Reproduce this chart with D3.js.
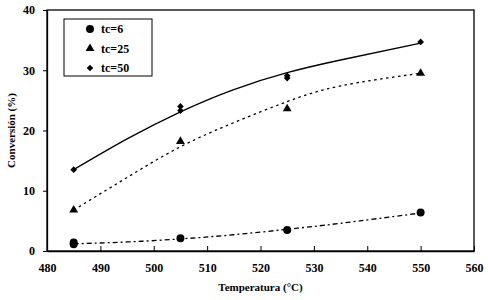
<!DOCTYPE html>
<html>
<head>
<meta charset="utf-8">
<script src="https://cdn.jsdelivr.net/npm/d3@7"></script>
</head>
<body style="margin:0;background:#fff">
<div id="chart"></div>
<script>
// Conversion vs temperature, three tc series with trend curves

const xTicks = [480, 490, 500, 510, 520, 530, 540, 550, 560];
const yTicks = [0, 10, 20, 30, 40];

// measured points (temperature, conversion)
const tc6 = [[485, 1.1], [485, 1.4], [505, 2.1], [525, 3.5], [550, 6.4]];
const tc25 = [[485, 6.8], [505, 18.2], [525, 23.6], [550, 29.5]];
const tc50 = [[485, 13.5], [505, 23.3], [505, 24.0], [525, 28.7], [525, 29.1], [550, 34.7]];

// trend curves
const trendT = [485, 495, 505, 515, 525, 535, 550];
const trend6 = [1.2, 1.5, 2.0, 2.7, 3.6, 4.6, 6.3];
const trend25 = [6.8, 12.2, 17.3, 21.3, 24.8, 27.4, 29.5];
const trend50 = [13.5, 18.6, 23.1, 26.8, 29.6, 31.7, 34.5];

const legendLabels = ['tc=6', 'tc=25', 'tc=50'];

const margin = { top: 10, right: 14, bottom: 49, left: 47 };
const width = 488 - margin.left - margin.right;
const height = 300 - margin.top - margin.bottom;

const svg = d3.select('#chart')
    .append('svg')
    .attr('width', 488)
    .attr('height', 300)
    .attr('font-family', 'Liberation Serif')
    .append('g')
    .attr('transform', `translate(${margin.left},${margin.top})`);

const x = d3.scaleLinear().domain([480, 560]).range([0, width]);
const y = d3.scaleLinear().domain([0, 40]).range([height, 0]);

// frame
svg.append('rect')
    .attr('width', width)
    .attr('height', height)
    .style('fill', 'none')
    .style('stroke', '#000')
    .style('stroke-width', 1.3);

// x axis, ticks pointing inward
const xAxis = svg.append('g')
    .attr('transform', `translate(0,${height})`)
    .call(d3.axisBottom(x).tickValues(xTicks).tickSizeInner(-5).tickSizeOuter(0).tickPadding(12));
xAxis.select('.domain').style('stroke-width', 1.3);
xAxis.selectAll('text').style('font-size', '12px');

// y axis, ticks pointing outward
const yAxis = svg.append('g')
    .call(d3.axisLeft(y).tickValues(yTicks).tickSizeInner(4).tickSizeOuter(0).tickPadding(8));
yAxis.select('.domain').style('stroke-width', 1.3);
yAxis.selectAll('text').style('font-size', '12px');
svg.selectAll('.tick line').style('stroke-width', 1);

// axis labels
svg.append('text')
    .attr('x', width / 2)
    .attr('y', height + 40)
    .style('text-anchor', 'middle')
    .style('font-size', '11px')
    .text('Temperatura (°C)');

svg.append('text')
    .attr('transform', 'rotate(-90)')
    .attr('x', -height / 2)
    .attr('y', -32)
    .style('text-anchor', 'middle')
    .style('font-size', '11px')
    .text('Conversión (%)');

// trend curves
const line = d3.line()
    .x(d => x(d[0]))
    .y(d => y(d[1]))
    .curve(d3.curveNatural);

const trends = [
    { vals: trend6, dash: '5,3,2,3' },
    { vals: trend25, dash: '2.5,3.5' },
    { vals: trend50, dash: null }
];

trends.forEach(t => {
    svg.append('path')
        .datum(trendT.map((v, i) => [v, t.vals[i]]))
        .attr('d', line)
        .style('fill', 'none')
        .style('stroke', '#000')
        .style('stroke-width', 1.3)
        .style('stroke-dasharray', t.dash);
});

// markers
const symCircle = d3.symbol().type(d3.symbolCircle).size(50);
const symTri = d3.symbol().type(d3.symbolTriangle).size(34);
const symDiamond = d3.symbol().type(d3.symbolSquare).size(22);

const series = [
    { pts: tc6, sym: symCircle, rot: 0 },
    { pts: tc25, sym: symTri, rot: 0 },
    { pts: tc50, sym: symDiamond, rot: 45 }
];

series.forEach(s => {
    svg.selectAll(null)
        .data(s.pts)
        .enter()
        .append('path')
        .attr('transform', d => `translate(${x(d[0])},${y(d[1])}) rotate(${s.rot})`)
        .attr('d', s.sym())
        .style('fill', '#000');
});

// legend
const legend = svg.append('g')
    .attr('transform', 'translate(17,9)');

legend.append('rect')
    .attr('width', 88)
    .attr('height', 57)
    .style('fill', '#fff')
    .style('stroke', '#000')
    .style('stroke-width', 1);

const rows = legend.selectAll('.legend')
    .data(legendLabels)
    .enter()
    .append('g')
    .attr('class', 'legend')
    .attr('transform', (d, i) => `translate(26,${10 + i * 19.5})`);

rows.append('path')
    .attr('transform', (d, i) => `rotate(${series[i].rot})`)
    .attr('d', (d, i) => series[i].sym())
    .style('fill', '#000');

rows.append('text')
    .attr('x', 11)
    .attr('dy', '.35em')
    .style('font-size', '12px')
    .text(d => d);

// serif bold for every label
d3.selectAll('svg text')
    .style('font-family', 'Liberation Serif')
    .style('font-weight', 'bold')
    .style('fill', '#000');
</script>
</body>
</html>
